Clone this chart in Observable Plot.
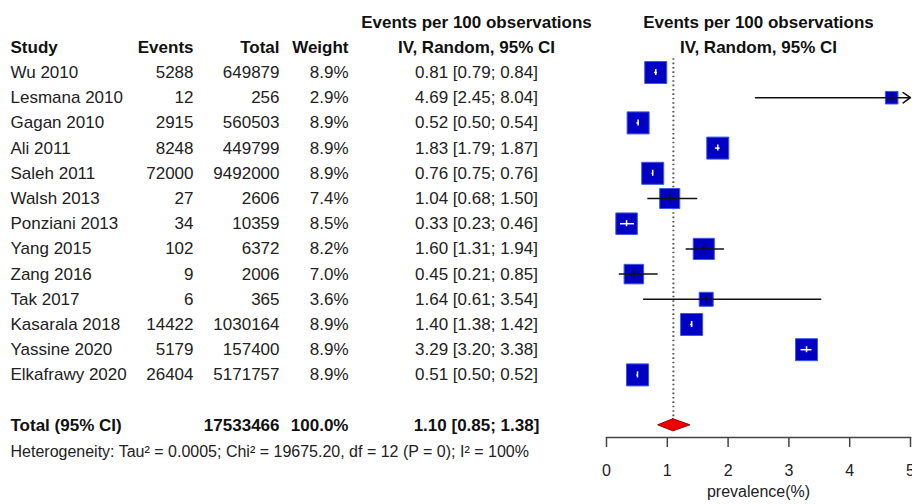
<!DOCTYPE html>
<html><head><meta charset="utf-8">
<script src="https://cdn.jsdelivr.net/npm/d3@7"></script>
<script src="https://cdn.jsdelivr.net/npm/@observablehq/plot@0.6"></script>
<style>body{margin:0;background:#fff}</style>
</head><body><div id="chart"></div>
<script>
// ---- data ----
const studies = ["Wu 2010","Lesmana 2010","Gagan 2010","Ali 2011","Saleh 2011","Walsh 2013","Ponziani 2013","Yang 2015","Zang 2016","Tak 2017","Kasarala 2018","Yassine 2020","Elkafrawy 2020"];
const events  = [5288, 12, 2915, 8248, 72000, 27, 34, 102, 9, 6, 14422, 5179, 26404];
const totals  = [649879, 256, 560503, 449799, 9492000, 2606, 10359, 6372, 2006, 365, 1030164, 157400, 5171757];
const weights = [8.9, 2.9, 8.9, 8.9, 8.9, 7.4, 8.5, 8.2, 7.0, 3.6, 8.9, 8.9, 8.9];
const est     = [0.81, 4.69, 0.52, 1.83, 0.76, 1.04, 0.33, 1.60, 0.45, 1.64, 1.40, 3.29, 0.51];
const lower   = [0.79, 2.45, 0.50, 1.79, 0.75, 0.68, 0.23, 1.31, 0.21, 0.61, 1.38, 3.20, 0.50];
const upper   = [0.84, 8.04, 0.54, 1.87, 0.76, 1.50, 0.46, 1.94, 0.85, 3.54, 1.42, 3.38, 0.52];
const pooledEst = 1.10, pooledLower = 0.85, pooledUpper = 1.38;
const pooledTotal = 17533466, pooledWeight = 100.0;
const xTicks = [0, 1, 2, 3, 4, 5];
const hetText = "Heterogeneity: Tau\u00B2 = 0.0005; Chi\u00B2 = 19675.20, df = 12 (P = 0); I\u00B2 = 100%";
const headerTop = "Events per 100 observations";
const headerSub = "IV, Random, 95% CI";
const xLabel = "prevalence(%)";

// ---- layout ----
const W = 912, H = 504, mL = 606, mR = 2, mB = 67;
const xMax = 5;
const pxPerUnit = (W - mL - mR) / xMax;
const sideMax = 22;               // px side of square for largest weight
const maxW = 8.9;
const rowTotal = 14, rowHet = 15.05, rowHead1 = -2, rowHead2 = -1;
const colStudy = -596, colEvents = -413, colTotal = -327, colWeight = -258, colCI = -130;
const fmt2 = v => v.toFixed(2);

const rows = studies.map((study, i) => ({
  study, events: events[i], total: totals[i], weight: weights[i],
  est: est[i], lower: lower[i], upper: upper[i], row: i,
  ci: `${fmt2(est[i])} [${fmt2(lower[i])}; ${fmt2(upper[i])}]`,
  side: sideMax * Math.sqrt(weights[i] / maxW)
}));
rows.forEach(d => d.inside = (Math.min(d.upper, xMax) - d.lower) * pxPerUnit < d.side);

const pooled = [{
  label: "Total (95% CI)", total: pooledTotal, weight: pooledWeight.toFixed(1) + "%",
  est: pooledEst, lower: pooledLower, upper: pooledUpper, row: rowTotal,
  ci: `${fmt2(pooledEst)} [${fmt2(pooledLower)}; ${fmt2(pooledUpper)}]`
}];
const dh = 0.24;
const diamond = [
  {y: rowTotal - dh, x1: pooledEst, x2: pooledEst},
  {y: rowTotal, x1: pooledLower, x2: pooledUpper},
  {y: rowTotal + dh, x1: pooledEst, x2: pooledEst}
];

const txt = {frameAnchor: "left", fill: "#222"};
const chart = Plot.plot({
  width: W, height: H,
  marginLeft: mL, marginRight: mR, marginTop: 0, marginBottom: mB,
  style: {fontFamily: "'Liberation Sans', Arial, sans-serif", fontSize: "17px", color: "#222", background: "#fff", overflow: "visible"},
  x: {domain: [0, xMax], axis: null},
  y: {domain: [-1, 14], range: [46.8, 424.8], axis: null},
  r: {type: "sqrt", domain: [0, maxW], range: [0, sideMax / Math.sqrt(Math.PI)]},
  marks: [
    // headers
    Plot.text([headerTop], {y: rowHead1, frameAnchor: "left", dx: colCI, textAnchor: "middle", fontWeight: "bold", fill: "#111"}),
    Plot.text([headerSub], {y: rowHead2, frameAnchor: "left", dx: colCI, textAnchor: "middle", fontWeight: "bold", fill: "#111"}),
    Plot.text([headerTop], {y: rowHead1, frameAnchor: "middle", textAnchor: "middle", fontWeight: "bold", fill: "#111"}),
    Plot.text([headerSub], {y: rowHead2, frameAnchor: "middle", textAnchor: "middle", fontWeight: "bold", fill: "#111"}),
    Plot.text(["Study"], {y: rowHead2, frameAnchor: "left", dx: colStudy, textAnchor: "start", fontWeight: "bold", fill: "#111"}),
    Plot.text(["Events"], {y: rowHead2, frameAnchor: "left", dx: colEvents, textAnchor: "end", fontWeight: "bold", fill: "#111"}),
    Plot.text(["Total"], {y: rowHead2, frameAnchor: "left", dx: colTotal, textAnchor: "end", fontWeight: "bold", fill: "#111"}),
    Plot.text(["Weight"], {y: rowHead2, frameAnchor: "left", dx: colWeight, textAnchor: "end", fontWeight: "bold", fill: "#111"}),
    // study rows
    Plot.text(rows, {...txt, y: "row", text: "study", dx: colStudy, textAnchor: "start"}),
    Plot.text(rows, {...txt, y: "row", text: d => String(d.events), dx: colEvents, textAnchor: "end"}),
    Plot.text(rows, {...txt, y: "row", text: d => String(d.total), dx: colTotal, textAnchor: "end"}),
    Plot.text(rows, {...txt, y: "row", text: d => d.weight.toFixed(1) + "%", dx: colWeight, textAnchor: "end"}),
    Plot.text(rows, {...txt, y: "row", text: "ci", dx: colCI, textAnchor: "middle"}),
    // total row
    Plot.text(pooled, {...txt, y: "row", text: "label", dx: colStudy, textAnchor: "start", fontWeight: "bold", fill: "#111"}),
    Plot.text(pooled, {...txt, y: "row", text: d => String(d.total), dx: colTotal, textAnchor: "end", fontWeight: "bold", fill: "#111"}),
    Plot.text(pooled, {...txt, y: "row", text: "weight", dx: colWeight, textAnchor: "end", fontWeight: "bold", fill: "#111"}),
    Plot.text(pooled, {...txt, y: "row", text: "ci", dx: colCI, textAnchor: "middle", fontWeight: "bold", fill: "#111"}),
    // heterogeneity
    Plot.text([hetText], {...txt, y: rowHet, dx: colStudy, textAnchor: "start", fontSize: 16}),
    // reference dotted line
    Plot.ruleX(pooled, {x: "est", y1: -0.55, y2: rowTotal - dh, stroke: "#555", strokeWidth: 2, strokeDasharray: "1.6,2.8"}),
    // squares
    Plot.dot(rows, {x: "est", y: "row", r: "weight", symbol: "square", fill: "#0000c4", stroke: "#3a58e0", strokeWidth: 1}),
    // CI lines
    Plot.ruleY(rows.filter(d => !d.inside && d.upper <= xMax), {y: "row", x1: "lower", x2: "upper", stroke: "#111", strokeWidth: 1.5}),
    Plot.arrow(rows.filter(d => d.upper > xMax), {x1: "lower", x2: () => xMax, y1: "row", y2: "row", stroke: "#111", strokeWidth: 1.5, headLength: 9, headAngle: 70}),
    Plot.ruleY(rows.filter(d => d.inside), {y: "row", x1: "lower", x2: "upper", stroke: "#fff", strokeWidth: 1.5}),
    Plot.ruleX(rows.filter(d => !d.inside), {x: "est", y1: d => d.row - 0.16, y2: d => d.row + 0.16, stroke: "#111", strokeWidth: 1.5}),
    Plot.ruleX(rows.filter(d => d.inside), {x: "est", y1: d => d.row - 0.12, y2: d => d.row + 0.12, stroke: "#fff", strokeWidth: 1.5}),
    // diamond
    Plot.areaX(diamond, {y: "y", x1: "x1", x2: "x2", fill: "#ee0000", stroke: "#990000", strokeWidth: 1}),
    // axis
    Plot.frame({anchor: "bottom", stroke: "#444", strokeWidth: 1.5}),
    Plot.axisX({ticks: xTicks, tickSize: 10, tickPadding: 17, fontSize: 16, stroke: "#444", strokeWidth: 1.5, label: null, tickFormat: d => String(d), color: "#222"}),
    Plot.text([xLabel], {frameAnchor: "bottom", dy: 59, fontSize: 16, fill: "#222"})
  ]
});
document.getElementById("chart").appendChild(chart);
</script></body></html>
